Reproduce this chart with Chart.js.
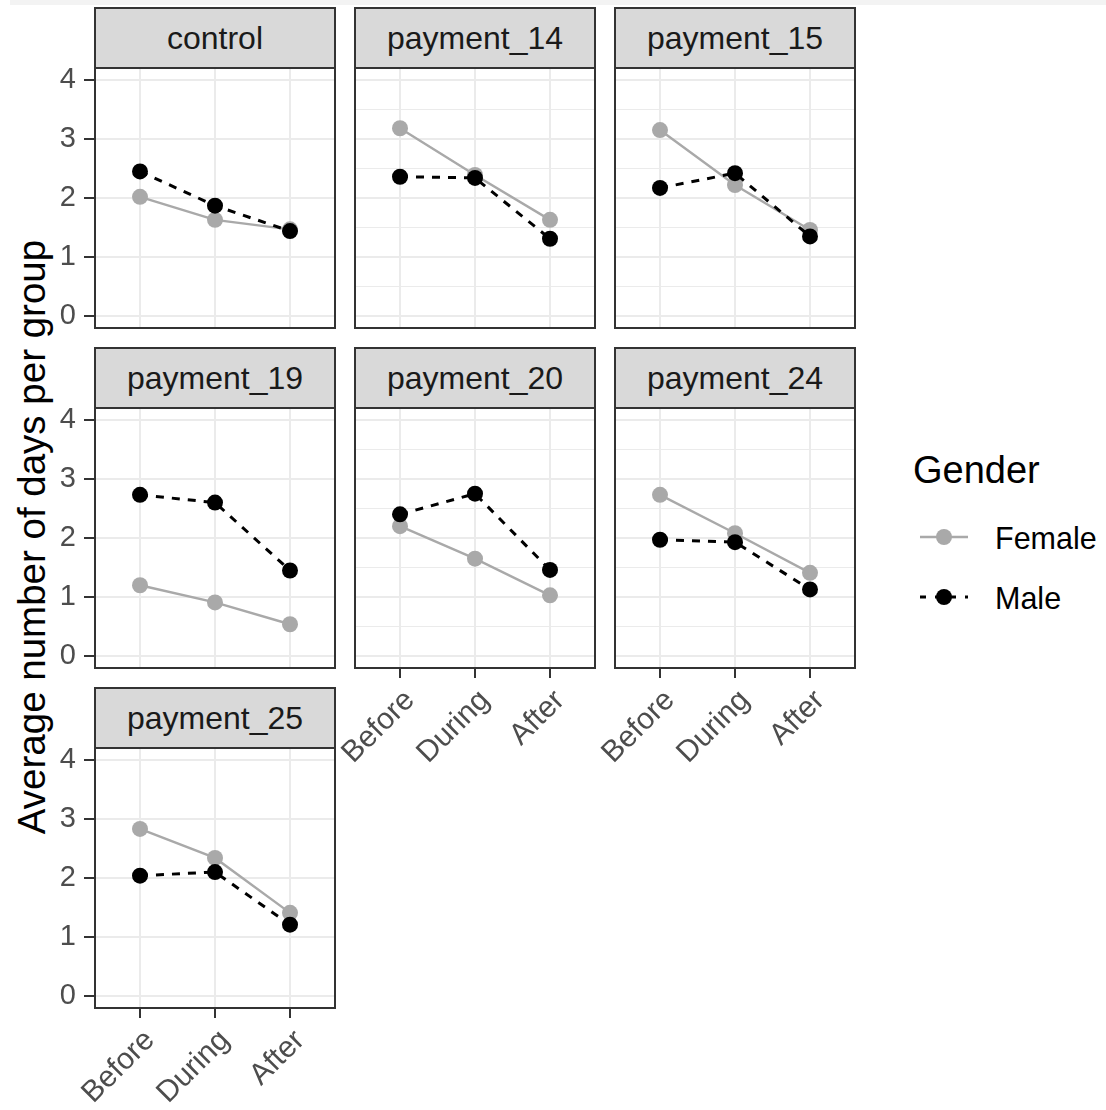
<!DOCTYPE html>
<html>
<head>
<meta charset="utf-8">
<script src="https://cdn.jsdelivr.net/npm/chart.js@4.4.1/dist/chart.umd.min.js"></script>
<style>
  body { margin:0; background:#fff; width:1106px; height:1110px; position:relative; overflow:hidden;
         font-family:"Liberation Sans", Arial, sans-serif; }
  .topband { position:absolute; left:10px; top:0; width:1096px; height:5px; background:#f3f3f3; }
  .strip { position:absolute; box-sizing:border-box; background:#d9d9d9; border:2px solid #333;
           color:#1a1a1a; font-size:32px; display:flex; align-items:center; justify-content:center; }
  canvas { position:absolute; }
  .ytitle { position:absolute; width:700px; left:-318px; top:518px; height:38px; line-height:38px;
            text-align:center; font-size:38.5px; color:#000; transform:rotate(-90deg); white-space:nowrap; }
  .ltitle { position:absolute; left:913px; top:451px; font-size:38px; line-height:38px; color:#000; }
  .ltext { position:absolute; left:995px; font-size:30.5px; line-height:30px; color:#000; }
  svg.key { position:absolute; left:915px; width:60px; height:30px; }
</style>
</head>
<body>
<div class="topband"></div>
<div class="ytitle">Average number of days per group</div>
<div class="ltitle">Gender</div>
<svg class="key" style="top:522px" viewBox="0 0 60 30">
  <line x1="5" y1="15" x2="53" y2="15" stroke="#a9a9a9" stroke-width="2.4"/>
  <circle cx="29" cy="15" r="8" fill="#a9a9a9"/>
</svg>
<div class="ltext" style="top:523px">Female</div>
<svg class="key" style="top:582px" viewBox="0 0 60 30">
  <line x1="5" y1="15" x2="53" y2="15" stroke="#000" stroke-width="3" stroke-dasharray="6 9"/>
  <circle cx="29" cy="15" r="8" fill="#000"/>
</svg>
<div class="ltext" style="top:583px">Male</div>

<script>
// facet panels, in reading order
const panels = ['control', 'payment_14', 'payment_15', 'payment_19', 'payment_20', 'payment_24', 'payment_25'];
const phases = ['Before', 'During', 'After'];
const yTicks = [0, 1, 2, 3, 4];

// average days per group, one row per panel: Before, During, After
const femaleValues = [
  [2.02, 1.63, 1.47],
  [3.18, 2.39, 1.63],
  [3.15, 2.22, 1.46],
  [1.20, 0.91, 0.54],
  [2.20, 1.65, 1.03],
  [2.73, 2.08, 1.41],
  [2.83, 2.34, 1.41]
];
const maleValues = [
  [2.45, 1.87, 1.44],
  [2.36, 2.34, 1.31],
  [2.17, 2.42, 1.35],
  [2.73, 2.60, 1.45],
  [2.40, 2.75, 1.46],
  [1.97, 1.93, 1.13],
  [2.04, 2.10, 1.21]
];

// layout of the facet grid (px)
const colLeft = [95, 355, 615];
const rowTop = [68, 408, 748];
const PW = 240, PH = 260;
const AXW = 70, PADT = 30, XAXH = 100, PADR = 4, EXTRA = 4;
const FONT = '"Liberation Sans", Arial, sans-serif';

const panelBorder = {
  id: 'panelBorder',
  afterDraw(chart) {
    const a = chart.chartArea, ctx = chart.ctx;
    ctx.save();
    ctx.strokeStyle = '#333333';
    ctx.lineWidth = 2;
    ctx.strokeRect(a.left, a.top, a.right - a.left, a.bottom - a.top);
    ctx.restore();
  }
};

const isMajor = v => Math.abs(v - Math.round(v)) < 1e-6;
const yGrid = [];
yTicks.forEach((v, k) => { if (k > 0) yGrid.push(v - 0.5); yGrid.push(v); });

function makePanel(i) {
  const col = i % 3, row = Math.floor(i / 3);
  const showY = col === 0;
  const showX = row === 2 || (row === 1 && col > 0);

  const strip = document.createElement('div');
  strip.className = 'strip';
  strip.textContent = panels[i];
  strip.style.left = (colLeft[col] - 1) + 'px';
  strip.style.top = (rowTop[row] - 61) + 'px';
  strip.style.width = (PW + 2) + 'px';
  strip.style.height = '62px';
  document.body.appendChild(strip);

  const cv = document.createElement('canvas');
  cv.width = AXW + PW + PADR + EXTRA;
  cv.height = PADT + PH + XAXH;
  cv.style.left = (colLeft[col] - AXW) + 'px';
  cv.style.top = (rowTop[row] - PADT) + 'px';
  document.body.appendChild(cv);

  const pts = arr => arr.map((v, k) => ({ x: k + 1, y: v }));

  new Chart(cv.getContext('2d'), {
    type: 'line',
    data: {
      datasets: [
        { label: 'Female', data: pts(femaleValues[i]), order: 1,
          borderColor: '#a9a9a9', backgroundColor: '#a9a9a9', borderWidth: 2.4,
          pointRadius: 8, pointHoverRadius: 8, pointBorderWidth: 0, tension: 0 },
        { label: 'Male', data: pts(maleValues[i]), order: 0,
          borderColor: '#000000', backgroundColor: '#000000', borderWidth: 3, borderDash: [8, 8],
          pointRadius: 8, pointHoverRadius: 8, pointBorderWidth: 0, tension: 0 }
      ]
    },
    options: {
      responsive: false, animation: false, events: [],
      layout: { padding: { top: PADT, right: PADR, left: 0, bottom: 0 } },
      plugins: { legend: { display: false }, tooltip: { enabled: false } },
      scales: {
        x: {
          type: 'linear', min: 0.4, max: 3.6,
          afterBuildTicks: s => { s.ticks = phases.map((p, k) => ({ value: k + 1 })); },
          afterFit: s => { s.height = XAXH; },
          border: { display: false },
          grid: { color: '#ebebeb', lineWidth: 2, drawTicks: showX, tickLength: 10,
                  tickColor: '#333333', tickWidth: 2 },
          ticks: { display: showX, autoSkip: false, minRotation: 45, maxRotation: 45, padding: 5,
                   labelOffset: 10, color: '#4d4d4d', font: { family: FONT, size: 30 },
                   callback: (v, k) => phases[k] }
        },
        y: {
          type: 'linear', min: -0.2, max: 4.2,
          afterBuildTicks: s => { s.ticks = yGrid.map(v => ({ value: v })); },
          afterFit: s => { s.width = AXW; },
          border: { display: false },
          grid: { color: '#ebebeb', drawTicks: showY, tickLength: 11,
                  lineWidth: c => (c.tick && isMajor(c.tick.value)) ? 2 : 1,
                  tickColor: c => (c.tick && isMajor(c.tick.value)) ? '#333333' : 'rgba(0,0,0,0)',
                  tickWidth: 2 },
          ticks: { display: showY, padding: 8, color: '#4d4d4d', font: { family: FONT, size: 29 },
                   callback: v => isMajor(v) ? String(Math.round(v)) : '' }
        }
      }
    },
    plugins: [panelBorder]
  });
}

panels.forEach((p, i) => makePanel(i));
</script>
</body>
</html>
